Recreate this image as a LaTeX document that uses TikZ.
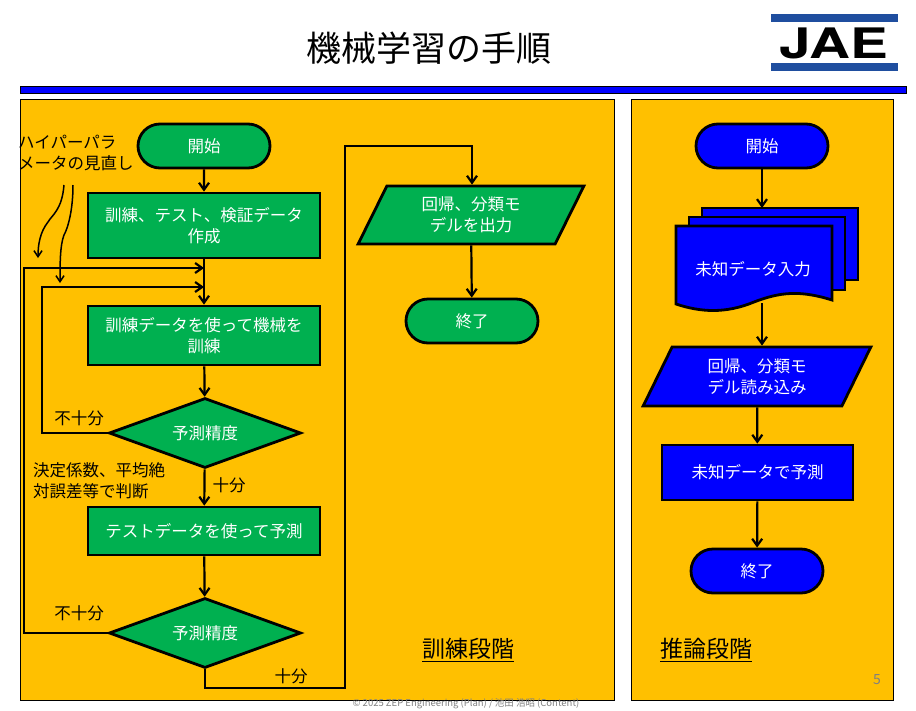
\documentclass[tikz,border=0pt]{standalone}
\usepackage{fontspec}
\setmainfont{Noto Sans CJK JP}
\usetikzlibrary{shapes.geometric,shapes.misc,arrows.meta}
\definecolor{gold}{HTML}{FFC000}
\definecolor{grn}{HTML}{00B050}
\definecolor{blu}{HTML}{0000FF}
\definecolor{logob}{HTML}{1F4E9F}
\tikzset{
 x=1pt,y=-1pt,
 fc/.style={draw=black,line width=2.8pt,text=white,font=\fontsize{16.5}{21}\selectfont,align=center,inner sep=0pt},
 term/.style={fc,rounded rectangle,minimum width=132pt,minimum height=44pt},
 box/.style={fc,rectangle,minimum width=232pt},
 dia/.style={fc,diamond,minimum width=192pt,minimum height=70pt,aspect=2.74,fill=grn},
 par/.style={fc,trapezium,trapezium left angle=65,trapezium right angle=115,trapezium stretches=true,minimum width=226pt,minimum height=58pt},
 ar/.style={line width=2.2pt,-{Straight Barb[length=7pt,width=10pt]}},
 ln/.style={line width=2.2pt},
 lbl/.style={font=\fontsize{16.5}{21}\selectfont,inner sep=0pt}
}
\begin{document}
\begin{tikzpicture}
\useasboundingbox (0,0) rectangle (916,710);
\fill[white] (0,0) rectangle (916,710);
% header
\node (title) at (429,48) {\fontsize{35}{38}\selectfont 機械学習の手順};
\fill[blu] (20,86) rectangle (906,93);
\draw[black,line width=0.6pt] (20,86) rectangle (906,93);
\fill[logob] (771,14) rectangle (898,22);
\fill[logob] (771,63) rectangle (898,71);
\node[inner sep=0pt] (logo) at (834,43) {\fontspec{TeX Gyre Heros}\bfseries\fontsize{42}{42}\selectfont\scalebox{1.35}[1]{JAE}};
% panels
\draw[fill=gold,line width=0.8pt] (20,99) rectangle (614,700);
\draw[fill=gold,line width=0.8pt] (631,99) rectangle (893,700);
% left flow
\node[term,fill=grn] (s) at (204,146) {開始};
\node[box,fill=grn,minimum height=65pt] (b1) at (204,225.5) {訓練、テスト、検証データ\\作成};
\node[box,fill=grn,minimum height=59pt] (b2) at (204,335.5) {訓練データを使って機械を\\訓練};
\node[dia] (d1) at (205,433) {予測精度};
\node[box,fill=grn,minimum height=48pt] (b3) at (204,531) {テストデータを使って予測};
\node[dia] (d2) at (205,633) {予測精度};
\node[par,fill=grn] (p1) at (471,215) {回帰、分類モ\\デルを出力};
\node[term,fill=grn] (e1) at (472,321) {終了};
\coordinate (m1) at (204,268);
\coordinate (m2) at (204,287);
\draw[ar] (s) -- (b1);
\draw[ln] (b1) -- (m1);
\draw[ar] (m1) -- (b2);
\draw[ar] (b2) -- (d1);
\draw[ar] (d1) -- node[lbl,right=7pt,pos=0.45]{十分} (b3);
\draw[ar] (b3) -- (d2);
\draw[ar] (d1.west) -- (42,433) -- (42,287) -- (m2);
\draw[ar] (d2.west) -- (24,633) -- (24,268) -- (m1);
\draw[ar] (d2.south) -- (205,688) -- (345,688) -- (345,146) -- (472,146) -- (p1.north -| 472,0);
\draw[ar] (p1) -- (e1);
\node[lbl] (nf1) at (79,418) {不十分};
\node[lbl] (nf2) at (79,613) {不十分};
\node[lbl] (jf) at (291,676) {十分};
\node[lbl,align=left,anchor=north west] (crit) at (33,462) {決定係数、平均絶\\対誤差等で判断};
\node[lbl,align=left,anchor=north west] (hp) at (18,135) {ハイパーパラ\\メータの見直し};
\coordinate (h1) at (38,258);
\coordinate (h2) at (60,283);
\draw[line width=1.5pt,-{Straight Barb[length=6pt,width=8pt]}] (64,185) .. controls (62,210) and (52,215) .. (48,222) .. controls (40,232) and (38,245) .. (h1);
\draw[line width=1.5pt,-{Straight Barb[length=6pt,width=8pt]}] (73,185) .. controls (73,210) and (68,228) .. (64,235) .. controls (60,245) and (60,265) .. (h2);
\node[font=\fontsize{23}{26}\selectfont,inner sep=0pt] (t1) at (468,650) {\underline{訓練段階}};
% right flow
\node[term,fill=blu] (s2) at (762,146) {開始};
\draw[fc,fill=blu] (702,208) rectangle (858,280);
\draw[fc,fill=blu] (689,217) rectangle (845,290);
\draw[fc,fill=blu] (676,226) -- (832,226) -- (832,300) .. controls (800,290) and (780,292) .. (754,302) .. controls (725,314) and (700,312) .. (676,304) -- cycle;
\node[lbl,text=white] (doc) at (753,269) {未知データ入力};
\coordinate (dtop) at (762,208);
\coordinate (dbot) at (762,303);
\node[par,fill=blu,minimum width=228pt,minimum height=59pt] (p2) at (757,376.5) {回帰、分類モ\\デル読み込み};
\node[box,fill=blu,minimum width=191pt,minimum height=55pt] (b4) at (757.5,472.5) {未知データで予測};
\node[term,fill=blu] (e2) at (757,571) {終了};
\draw[ar] (s2) -- (dtop);
\draw[ar] (dbot) -- (p2.north -| dbot);
\draw[ar] (p2) -- (b4);
\draw[ar] (b4) -- (e2);
\node[font=\fontsize{23}{26}\selectfont,inner sep=0pt] (t2) at (706,650) {\underline{推論段階}};
\node[text=gray,font=\fontsize{14}{16}\selectfont] (pg) at (877,680) {5};
\node[text=gray,font=\fontsize{9.5}{11}\selectfont] (ft) at (466,704) {© 2025 ZEP Engineering (Plan) / 池田 浩昭 (Content)};
\end{tikzpicture}
\end{document}
